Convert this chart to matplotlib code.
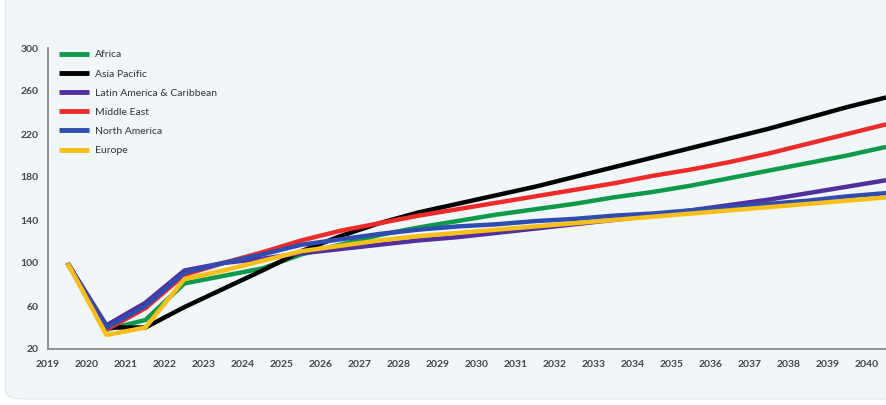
import matplotlib
matplotlib.use("Agg")
import matplotlib.pyplot as plt
from matplotlib.patches import FancyBboxPatch

# index values, one per year (2019 = 100)
years = list(range(2019, 2041))
africa = [100, 38, 47, 81, 88, 95, 108, 117, 126, 133, 139, 145, 150, 155, 161, 166, 172, 179, 186, 193, 200, 208]
asia_pacific = [100, 40, 40, 59, 76, 93, 111, 125, 137, 147, 155, 163, 171, 180, 189, 198, 207, 216, 225, 235, 245, 254]
latin_america = [100, 42, 63, 93, 100, 104, 109, 113, 117, 121, 124, 128, 132, 136, 140, 144, 149, 154, 159, 165, 171, 177]
middle_east = [100, 38, 58, 89, 100, 110, 121, 130, 137, 144, 150, 156, 162, 168, 174, 181, 187, 194, 202, 211, 220, 229]
north_america = [100, 40, 60, 91, 100, 108, 117, 122, 127, 131, 134, 136, 139, 141, 144, 146, 149, 152, 155, 158, 162, 165]
europe = [100, 33, 40, 85, 93, 102, 111, 116, 121, 125, 128, 131, 134, 137, 140, 143, 146, 149, 152, 155, 158, 161]

series = [
    ("Africa", africa, "#0e9a48"),
    ("Asia Pacific", asia_pacific, "#000000"),
    ("Latin America & Caribbean", latin_america, "#532f9e"),
    ("Middle East", middle_east, "#ee2b2b"),
    ("North America", north_america, "#2f4db0"),
    ("Europe", europe, "#f6bf1a"),
]

plt.rcParams['font.family'] = ['Lato', 'DejaVu Sans']

fig = plt.figure(figsize=(8.86, 4.05), dpi=100)
fig.patch.set_facecolor("white")
card = FancyBboxPatch((0.006, 0.015), 1.2, 1.2, boxstyle="round,pad=0,rounding_size=0.02",
                      transform=fig.transFigure, facecolor="#f1f7f9", edgecolor="#e3eaec",
                      linewidth=0.8, zorder=-5)
fig.patches.append(card)

ax = fig.add_axes([48 / 886, 56 / 405, 838 / 886, 301 / 405])
ax.set_facecolor("none")

xs = [i + 0.5 for i in range(len(years))]
for name, vals, col in series:
    ax.plot(xs, vals, color=col, lw=3.2, label=name, solid_joinstyle="round", solid_capstyle="butt")

ax.set_xlim(0, 21.5)
ax.set_ylim(20, 300)
ax.set_yticks(range(20, 301, 40))
ax.set_xticks(range(len(years)))
ax.set_xticklabels([str(y) for y in years])
ax.tick_params(length=0, labelsize=7.5, colors="#444444", pad=8)
ax.tick_params(axis="y", pad=7)
for lab in ax.get_xticklabels() + ax.get_yticklabels():
    lab.set_fontweight("bold")

ax.spines["top"].set_visible(False)
ax.spines["right"].set_visible(False)
ax.spines["left"].set_color("#8a8a8a")
ax.spines["bottom"].set_color("#8a8a8a")
ax.spines["left"].set_linewidth(1.3)
ax.spines["bottom"].set_linewidth(1.3)

leg = ax.legend(loc="upper left", bbox_to_anchor=(9 / 838, 1.0), frameon=False,
                fontsize=7.5, handlelength=2.9, handletextpad=0.55, labelspacing=0.95,
                borderpad=0.2, borderaxespad=0)
for line in leg.get_lines():
    line.set_linewidth(3.5)
for t in leg.get_texts():
    t.set_color("#333333")

fig.savefig("out.png", dpi=100)
